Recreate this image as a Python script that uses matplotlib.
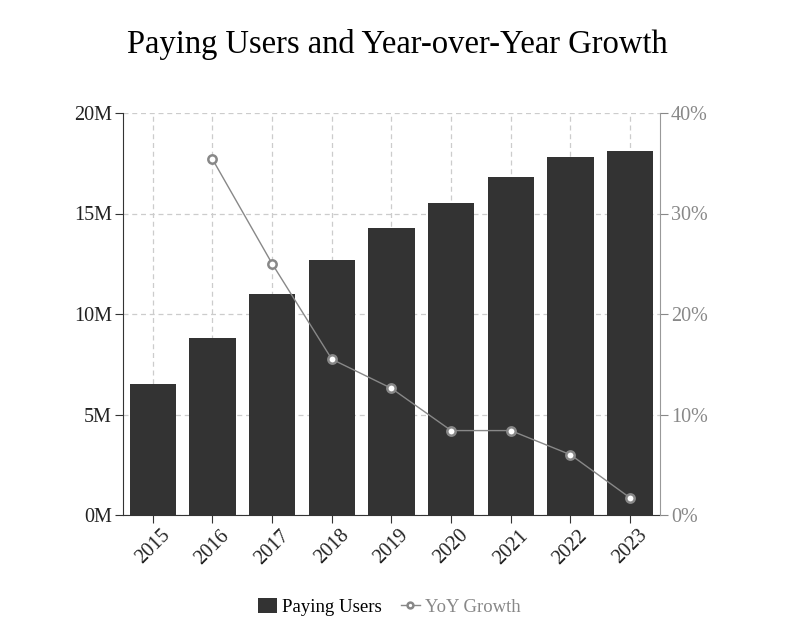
import matplotlib
matplotlib.use('Agg')
import matplotlib.pyplot as plt
import numpy as np

years = ['2015', '2016', '2017', '2018', '2019', '2020', '2021', '2022', '2023']
users_m = [6.5, 8.8, 11.0, 12.7, 14.3, 15.5, 16.8, 17.8, 18.1]
growth_pct = [np.nan, 35.4, 25.0, 15.5, 12.6, 8.4, 8.4, 6.0, 1.7]

plt.rcParams['font.family'] = ['Liberation Serif', 'DejaVu Serif']

fig = plt.figure(figsize=(7.95, 6.25), dpi=100)
ax = fig.add_axes([123/795, 1-515/625, (660-123)/795, (515-113)/625])
x = np.arange(len(years))

ax.bar(x, users_m, width=0.78, color='#333333', label='Paying Users', zorder=2)
ax.set_xlim(-0.5, 8.5)
ax.set_ylim(0, 20)
ax.set_yticks([0, 5, 10, 15, 20])
ax.set_yticklabels([f'{v}M' for v in [0, 5, 10, 15, 20]])
ax.set_xticks(x)
ax.set_xticklabels(years, rotation=45)
ax.grid(True, color='#cccccc', linestyle=(0, (4, 3)), linewidth=0.9, zorder=0)
ax.set_axisbelow(True)
ax.tick_params(labelsize=14.5, color='#333333', labelcolor='#222222', length=6, pad=2)
for s in ['top', 'right']:
    ax.spines[s].set_visible(False)
ax.spines['bottom'].set_color('#333333')
ax.spines['left'].set_color('#333333')

ax2 = ax.twinx()
ax2.plot(x, growth_pct, color='#888888', linewidth=1, marker='o', markersize=6,
         markerfacecolor='white', markeredgecolor='#888888', markeredgewidth=1.8,
         label='YoY Growth', zorder=3)
ax2.set_ylim(0, 40)
ax2.set_yticks([0, 10, 20, 30, 40])
ax2.set_yticklabels([f'{v}%' for v in [0, 10, 20, 30, 40]])
ax2.tick_params(labelsize=14.5, colors='#888888', length=6, pad=2)
for s in ['top', 'left', 'bottom']:
    ax2.spines[s].set_visible(False)
ax2.spines['right'].set_color('#999999')

fig.text(0.5, 1-45/625, 'Paying Users and Year-over-Year Growth', ha='center', va='center', fontsize=23.5)

h1, l1 = ax.get_legend_handles_labels()
h2, l2 = ax2.get_legend_handles_labels()
leg = fig.legend(h1 + h2, l1 + l2, loc='center', bbox_to_anchor=(0.49, 1-607/625), ncol=2,
                 frameon=False, fontsize=13.5, handlelength=1.0, handleheight=0.9,
                 columnspacing=1.0, handletextpad=0.3, markerscale=0.7)
leg.get_texts()[1].set_color('#888888')

fig.savefig('out.png', dpi=100)
